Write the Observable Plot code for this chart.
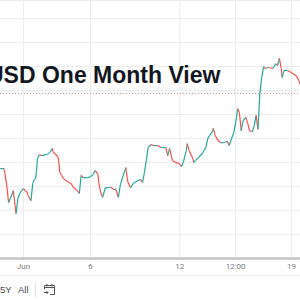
<!DOCTYPE html>
<html><head><meta charset="utf-8">
<script src="https://cdn.jsdelivr.net/npm/d3@7"></script>
<script src="https://cdn.jsdelivr.net/npm/@observablehq/plot@0.6"></script>
<style>
html,body{margin:0;padding:0;background:#fff;}
#wrap{position:relative;width:300px;height:300px;overflow:hidden;font-family:"Liberation Sans",Arial,sans-serif;}
#chart svg{display:block;}
#title{position:absolute;left:-13px;top:64px;font-weight:bold;font-size:23px;line-height:23px;color:#131722;white-space:nowrap;}
#bar{position:absolute;left:0;top:275px;width:300px;height:25px;border-top:1px solid #efefef;font-size:9.5px;color:#4a4a4a;}
#bar span{position:absolute;top:8px;}
#sep{position:absolute;left:35px;top:6px;width:1px;height:15px;background:#e0e0e0;}
#cal{position:absolute;left:43px;top:7px;}
</style></head>
<body>
<div id="wrap">
  <div id="chart"></div>
  <div id="title">USD One Month View</div>
  <div id="bar">
    <span style="left:0px">5Y</span>
    <span style="left:18px">All</span>
    <div id="sep"></div>
    <svg id="cal" width="13" height="13" viewBox="0 0 13 13" fill="none" stroke="#555" stroke-width="1">
      <path d="M1.5 4.5 H11.5 M1.5 2.5 H11.5 V11.5 H7 M1.5 2.5 V6.5 M4 1 V3.5 M9 1 V3.5 M1 9.5 H5 M3.5 8 L5 9.5 L3.5 11"/>
    </svg>
  </div>
</div>
<script>
// trading hours since Jun 1 00:00 (weekends skipped)
const hours = [-25,-21,-20,-18,-16,-14,-12,-11,-9,-8,-6,-4,-2,0,2,4,5,8,10,11,13,14,15,17,20,24,27,29,31,32,34,37,38,39,41,43,47,51,54,57,60,62,64,69,72,75,77,80,81,83,85,88,91,94,97,99,102,104,106,110,112,115,118,123,126,128,130,132,134,137,140,144,148,153,155,157,160,163,167,170,172,175,176,178,182,183,185,188,192,196,198,200,203,204,206,209,212,215,219,221,224,226,229,230,232,234,236,239,241,243,246,248,250,252,254,256,258,260,263,268,271,273,275,277,278,280,284,287,290,293,296,298,300];
const prices = [1.0737,1.0737,1.0727,1.0702,1.0666,1.0675,1.0685,1.0691,1.0660,1.0643,1.0675,1.0685,1.0691,1.0695,1.0691,1.0687,1.0681,1.0670,1.0706,1.0712,1.0716,1.0733,1.0758,1.0766,1.0764,1.0766,1.0768,1.0773,1.0779,1.0771,1.0768,1.0762,1.0750,1.0729,1.0723,1.0716,1.0710,1.0706,1.0697,1.0693,1.0685,1.0723,1.0718,1.0718,1.0720,1.0725,1.0733,1.0725,1.0706,1.0687,1.0677,1.0697,1.0697,1.0698,1.0693,1.0695,1.0677,1.0702,1.0716,1.0739,1.0710,1.0697,1.0706,1.0712,1.0714,1.0708,1.0729,1.0754,1.0781,1.0787,1.0785,1.0785,1.0781,1.0781,1.0764,1.0779,1.0754,1.0750,1.0748,1.0741,1.0752,1.0775,1.0789,1.0775,1.0758,1.0750,1.0754,1.0760,1.0768,1.0781,1.0800,1.0806,1.0814,1.0821,1.0806,1.0796,1.0791,1.0791,1.0794,1.0785,1.0802,1.0812,1.0844,1.0862,1.0854,1.0816,1.0837,1.0844,1.0831,1.0816,1.0814,1.0827,1.0848,1.0819,1.0894,1.0927,1.0950,1.0946,1.0948,1.0946,1.0956,1.0952,1.0967,1.0946,1.0927,1.0942,1.0942,1.0938,1.0935,1.0931,1.0921,1.0910,1.0904];
const lastPrice = 1.0894;
const gridPrices = [1.055,1.060,1.065,1.070,1.075,1.080,1.085,1.090,1.095,1.100,1.105];
const tickHours = [0,72,168,228,288];
const tickLabels = ["Jun","6","12","12:00","19"];

const segs = hours.slice(1).map((h,i)=>({h0:hours[i],p0:prices[i],h1:h,p1:prices[i+1]}));
const labelOf = new Map(tickHours.map((h,i)=>[h,tickLabels[i]]));
const yDom = [1.05493,1.10879];

const chart = Plot.plot({
  width:300, height:276, marginTop:0, marginRight:0, marginBottom:18, marginLeft:0,
  style:{background:"#fff", fontFamily:"Roboto, 'Liberation Sans', sans-serif"},
  x:{domain:[-24.7,297.7], axis:null},
  y:{domain:yDom, axis:null},
  marks:[
    Plot.ruleY([yDom[1]],{stroke:"#ececec", strokeWidth:1.5}),
    Plot.ruleY(gridPrices,{stroke:"#ececec"}),
    Plot.ruleX(tickHours,{stroke:"#ececec"}),
    Plot.ruleY([lastPrice],{stroke:"#ef5350", strokeDasharray:"1 2", strokeOpacity:0.75}),
    Plot.link(segs,{x1:"h0",y1:"p0",x2:"h1",y2:"p1",stroke:d=>d.p1>=d.p0?"#26a69a":"#ef5350",strokeWidth:1.2}),
    Plot.axisX(tickHours,{tickSize:0, tickPadding:5, tickFormat:d=>labelOf.get(d), fontSize:8, color:"#7b7b7b"}),
    Plot.ruleY([yDom[0]],{stroke:"#c4c4c4", strokeWidth:2.5})
  ]
});
document.getElementById("chart").append(chart);
</script>
</body></html>
